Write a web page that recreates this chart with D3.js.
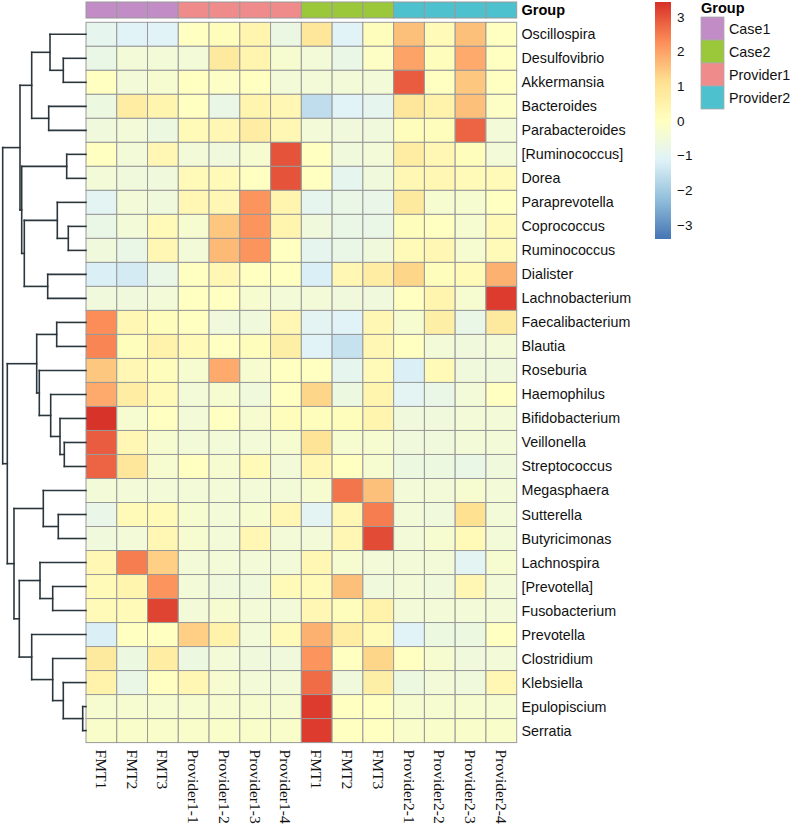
<!DOCTYPE html>
<html>
<head>
<meta charset="utf-8">
<script src="https://cdn.jsdelivr.net/npm/d3@7/dist/d3.min.js"></script>
<style>
  html, body { margin: 0; padding: 0; background: #fff; }
  svg { display: block; }
</style>
</head>
<body>
<svg id="chart" width="800" height="826"></svg>
<script>
// ---------- DATA ----------
const rowNames = ["Oscillospira","Desulfovibrio","Akkermansia","Bacteroides","Parabacteroides",
  "[Ruminococcus]","Dorea","Paraprevotella","Coprococcus","Ruminococcus","Dialister",
  "Lachnobacterium","Faecalibacterium","Blautia","Roseburia","Haemophilus","Bifidobacterium",
  "Veillonella","Streptococcus","Megasphaera","Sutterella","Butyricimonas","Lachnospira",
  "[Prevotella]","Fusobacterium","Prevotella","Clostridium","Klebsiella","Epulopiscium","Serratia"];

const colNames = ["FMT1","FMT2","FMT3","Provider1-1","Provider1-2","Provider1-3","Provider1-4",
  "FMT1","FMT2","FMT3","Provider2-1","Provider2-2","Provider2-3","Provider2-4"];

const colGroups = ["Case1","Case1","Case1","Provider1","Provider1","Provider1","Provider1",
  "Case2","Case2","Case2","Provider2","Provider2","Provider2","Provider2"];

const groupNames = ["Case1","Case2","Provider1","Provider2"];
const groupColors = ["#C28CC7","#9BC83B","#F08B8B","#4DC2CE"];

// z-scored abundances, one row per taxon, columns in colNames order
const values = [
  [-0.9,-1.1,-1.1, 0.0, 0.1, 0.4,-0.7, 0.9,-1.1, 0.1, 1.6, 0.2, 1.6, 0.0],
  [-0.75,-0.45,-0.45,-0.45, 0.8, 0.4,-0.3,-0.45,-0.75,-0.1, 2.0, 0.1, 1.9, 0.0],
  [ 0.0,-0.45,-0.3, 0.0,-0.1, 0.0,-0.45,-0.45,-0.45,-0.45, 2.9, 0.0, 1.5, 0.0],
  [-0.65, 0.7, 0.4, 0.0,-0.75, 0.4, 0.3,-1.6,-1.1,-0.9, 0.9, 0.5, 1.6,-0.1],
  [-0.55,-0.45,-0.65, 0.2, 0.3, 0.7, 0.3,-0.45,-0.55,-0.55, 0.1, 0.1, 2.8,-0.45],
  [ 0.0,-0.45, 0.3,-0.45,-0.55,-0.3, 3.0, 0.0,-0.55,-0.45, 0.7, 0.3, 0.1,-0.45],
  [-0.45,-0.55,-0.55, 0.2, 0.2, 0.0, 3.0, 0.0,-0.9,-0.55, 0.3, 0.3, 0.2, 0.2],
  [-1.0,-0.45,-0.55, 0.3, 0.3, 2.2, 0.4,-0.9,-0.75,-0.8, 0.8,-0.3,-0.3, 0.0],
  [-0.75,-0.45, 0.2,-0.3, 1.5, 2.2, 0.4,-0.55,-0.75,-0.75, 0.1, 0.0,-0.3, 0.2],
  [-0.55,-0.75, 0.3,-0.45, 1.7, 2.2, 0.0,-0.9,-0.75,-0.55, 0.2, 0.3,-0.3, 0.2],
  [-1.2,-1.3,-0.75, 0.0, 0.3, 0.0, 0.0,-1.2, 0.3, 0.7, 1.3, 0.1, 0.2, 1.8],
  [-0.55,-0.55,-0.45, 0.0, 0.0,-0.3,-0.45,-0.45,-0.55,-0.55, 0.0, 0.4,-0.3, 3.3],
  [ 2.3, 0.3, 0.1, 0.0,-0.55,-0.55, 0.3,-1.0,-1.1, 0.3,-0.3, 0.6,-0.75, 0.8],
  [ 2.4, 0.1, 0.5, 0.2, 0.0, 0.1, 0.6,-1.1,-1.5, 0.3, 0.0,-0.45,-0.55,-0.45],
  [ 1.5, 0.3, 0.1,-0.3, 1.9,-0.3, 0.0, 0.0,-0.9, 0.2,-1.2, 0.2,-0.55,-0.55],
  [ 1.9, 0.7, 0.2,-0.45,-0.3,-0.55, 0.0, 1.3,-0.65, 0.4,-1.0,-0.75,-0.45, 0.0],
  [ 3.4,-0.3, 0.0,-0.45, 0.0,-0.3, 0.1, 0.1, 0.1, 0.4,-0.55,-0.55,-0.45,-0.45],
  [ 2.9, 0.3,-0.3,-0.45,-0.45,-0.45,-0.3, 1.0,-0.3,-0.3,-0.55,-0.55,-0.45,-0.45],
  [ 2.8, 0.9,-0.3, 0.0,-0.3, 0.2,-0.45, 0.3, 0.0,-0.3,-0.65,-0.65,-0.75,-0.55],
  [-0.45,-0.45,-0.45,-0.45,-0.45,-0.45,-0.45,-0.3, 2.6, 1.6,-0.45,-0.45,-0.3,-0.45],
  [-0.8, 0.2, 0.2,-0.3,-0.45,-0.3, 0.3,-1.0, 0.3, 2.5,-0.45,-0.55, 1.1,-0.45],
  [-0.55,-0.45, 0.3,-0.3,-0.45, 0.3,-0.45,-0.45, 0.3, 3.1,-0.45,-0.3, 0.2,-0.45],
  [ 0.3, 2.5, 1.4,-0.45,-0.45,-0.45,-0.45, 0.3,-0.3,-0.45,-0.45,-0.45,-1.0,-0.3],
  [ 0.2, 0.4, 2.2,-0.45,-0.55,-0.55, 0.2, 0.2, 1.6,-0.55,-0.45,-0.55, 0.3,-0.45],
  [ 0.2, 0.2, 3.2,-0.45,-0.3,-0.45,-0.45, 0.3, 0.1, 0.5,-0.45,-0.45,-0.45,-0.45],
  [-1.2, 0.0, 0.0, 1.4, 0.5,-0.45, 0.2, 1.8, 0.7, 0.2,-1.1,-0.65,-0.65, 0.0],
  [ 0.8,-0.65, 0.7,-0.65,-0.45,-0.55,-0.55, 2.2, 0.0, 1.3, 0.0,-0.3,-0.55,-0.45],
  [ 0.5,-0.75, 0.0, 0.3,-0.3,-0.45,-0.45, 2.7,-0.55, 0.6,-0.65,-0.45,-0.55, 0.3],
  [-0.3,-0.3,-0.3,-0.3,-0.3,-0.3,-0.3, 3.3, 0.0, 0.0,-0.3,-0.3,-0.3,-0.3],
  [-0.2,-0.2,-0.2,-0.2,-0.2,-0.2,-0.2, 3.3, 0.0, 0.0,-0.2,-0.2,-0.2,-0.2]
];

// row dendrogram (merge heights)
const rowTree = {h:83.3, children:[
  {h:66, children:[
    {h:54.3, children:[
      {h:36, children:[{name:"Oscillospira"},{h:22.7, children:[{name:"Desulfovibrio"},{name:"Akkermansia"}]}]},
      {h:37.3, children:[{name:"Bacteroides"},{name:"Parabacteroides"}]}
    ]},
    {h:64.3, children:[
      {h:19.3, children:[{name:"[Ruminococcus]"},{name:"Dorea"}]},
      {h:61.7, children:[
        {h:28.7, children:[{name:"Paraprevotella"},{h:17.7, children:[{name:"Coprococcus"},{name:"Ruminococcus"}]}]},
        {h:38.3, children:[{name:"Dialister"},{name:"Lachnobacterium"}]}
      ]}
    ]}
  ]},
  {h:78.7, children:[
    {h:49.3, children:[
      {h:29.3, children:[{name:"Faecalibacterium"},{name:"Blautia"}]},
      {h:46.7, children:[{name:"Roseburia"},
        {h:35.3, children:[{name:"Haemophilus"},
          {h:26, children:[{name:"Bifidobacterium"},
            {h:21.7, children:[{name:"Veillonella"},{name:"Streptococcus"}]}]}]}]}
    ]},
    {h:72, children:[
      {h:42.7, children:[{name:"Megasphaera"},{h:27.7, children:[{name:"Sutterella"},{name:"Butyricimonas"}]}]},
      {h:66.7, children:[
        {h:46, children:[{name:"Lachnospira"},{h:33.3, children:[{name:"[Prevotella]"},{name:"Fusobacterium"}]}]},
        {h:54.3, children:[{name:"Prevotella"},
          {h:33.3, children:[{name:"Clostridium"},
            {h:22.7, children:[{name:"Klebsiella"},
              {h:3.3, children:[{name:"Epulopiscium"},{name:"Serratia"}]}]}]}]}
      ]}
    ]}
  ]}
]};

const legendTicks = [3,2,1,0,-1,-2,-3];
const colorDomain = [-3.4, 3.44];
const paletteColors = ["#4575B4","#91BFDB","#E0F3F8","#FFFFBF","#FEE090","#FC8D59","#D73027"];

// ---------- LAYOUT ----------
const svg = d3.select("#chart");
const hmLeft = 86, hmRight = 516.7, hmTop = 22.3, hmBottom = 742.6;
const annTop = 2, annBottom = 18;
const border = "#999999";

const x = d3.scaleBand().domain(d3.range(colNames.length)).range([hmLeft, hmRight]);
const y = d3.scaleBand().domain(rowNames).range([hmTop, hmBottom]);

const stops = d3.range(paletteColors.length).map(i => colorDomain[0] + i*(colorDomain[1]-colorDomain[0])/(paletteColors.length-1));
const color = d3.scaleLinear().domain(stops).range(paletteColors).interpolate(d3.interpolateRgb).clamp(true);
const groupColor = d3.scaleOrdinal().domain(groupNames).range(groupColors);

// annotation bar
svg.append("g").selectAll("rect").data(colGroups).join("rect")
  .attr("x", (d,i) => x(i)).attr("y", annTop)
  .attr("width", x.bandwidth()).attr("height", annBottom - annTop)
  .attr("fill", d => groupColor(d)).attr("stroke", border).attr("stroke-width", 1);

svg.append("text").attr("x", 521.5).attr("y", annTop + (annBottom-annTop)/2)
  .attr("dominant-baseline", "central")
  .attr("font-family", "Liberation Sans, Arial, sans-serif").attr("font-weight", "bold")
  .attr("font-size", 14.5).text("Group");

// heatmap cells
const cells = [];
values.forEach((row, ri) => row.forEach((v, ci) => cells.push({r: rowNames[ri], c: ci, v})));
svg.append("g").selectAll("rect").data(cells).join("rect")
  .attr("x", d => x(d.c)).attr("y", d => y(d.r))
  .attr("width", x.bandwidth()).attr("height", y.bandwidth())
  .attr("fill", d => color(d.v)).attr("stroke", border).attr("stroke-width", 1);

// row labels
svg.append("g").selectAll("text").data(rowNames).join("text")
  .attr("x", 521.5).attr("y", d => y(d) + y.bandwidth()/2)
  .attr("dominant-baseline", "central")
  .attr("font-family", "Liberation Sans, Arial, sans-serif").attr("font-size", 14.3)
  .attr("fill", "#111").text(d => d);

// column labels
svg.append("g").selectAll("text").data(colNames).join("text")
  .attr("transform", (d,i) => `translate(${x(i) + x.bandwidth()/2},${hmBottom + 7}) rotate(90)`)
  .attr("dominant-baseline", "central")
  .attr("font-family", "Liberation Serif, Times New Roman, serif").attr("font-size", 15.5)
  .attr("fill", "#111").text(d => d);

// dendrogram
const root = d3.hierarchy(rowTree);
const hx = d3.scaleLinear().domain([0, rowTree.h]).range([hmLeft, 2.7]);
root.eachAfter(n => {
  if (!n.children) { n.py = y(n.data.name) + y.bandwidth()/2; n.px = hx(0); }
  else { n.py = d3.mean(n.children, c => c.py); n.px = hx(n.data.h); }
});
const segs = [];
root.each(n => {
  if (n.children) {
    const ys = n.children.map(c => c.py);
    segs.push([n.px, d3.min(ys), n.px, d3.max(ys)]);
    n.children.forEach(c => segs.push([n.px, c.py, c.px, c.py]));
  }
});
svg.append("g").selectAll("line").data(segs).join("line")
  .attr("x1", d => d[0]).attr("y1", d => d[1]).attr("x2", d => d[2]).attr("y2", d => d[3])
  .attr("stroke", "#2a363c").attr("stroke-width", 1.6).attr("stroke-linecap", "square");

// color legend
const cbX = 655, cbW = 16, cbTop = 2, cbBottom = 239;
const cbScale = d3.scaleLinear().domain(colorDomain).range([cbBottom, cbTop]);
const defs = svg.append("defs");
const grad = defs.append("linearGradient").attr("id", "cbgrad")
  .attr("x1", 0).attr("y1", 1).attr("x2", 0).attr("y2", 0);
d3.range(0, 1.0001, 0.02).forEach(t => {
  const v = colorDomain[0] + t*(colorDomain[1]-colorDomain[0]);
  grad.append("stop").attr("offset", t).attr("stop-color", color(v));
});
svg.append("rect").attr("x", cbX).attr("y", cbTop).attr("width", cbW)
  .attr("height", cbBottom - cbTop).attr("fill", "url(#cbgrad)");
svg.append("g").selectAll("text").data(legendTicks).join("text")
  .attr("x", cbX + cbW + 6).attr("y", d => cbScale(d))
  .attr("dominant-baseline", "central")
  .attr("font-family", "Liberation Sans, Arial, sans-serif").attr("font-size", 13.5)
  .attr("fill", "#111").text(d => d < 0 ? "\u2212" + Math.abs(d) : d);

// group legend
const gl = svg.append("g");
gl.append("text").attr("x", 701).attr("y", 8).attr("dominant-baseline", "central")
  .attr("font-family", "Liberation Sans, Arial, sans-serif").attr("font-weight", "bold")
  .attr("font-size", 14.5).text("Group");
const gy = d3.scaleBand().domain(groupNames).range([17, 109]);
gl.selectAll("rect").data(groupNames).join("rect")
  .attr("x", 701).attr("y", d => gy(d)).attr("width", 23).attr("height", gy.bandwidth())
  .attr("fill", d => groupColor(d)).attr("stroke", "#aaa").attr("stroke-width", 0.8);
gl.selectAll("text.lab").data(groupNames).join("text").attr("class", "lab")
  .attr("x", 729).attr("y", d => gy(d) + gy.bandwidth()/2)
  .attr("dominant-baseline", "central")
  .attr("font-family", "Liberation Sans, Arial, sans-serif").attr("font-size", 14.3)
  .attr("fill", "#111").text(d => d);
</script>
</body>
</html>
